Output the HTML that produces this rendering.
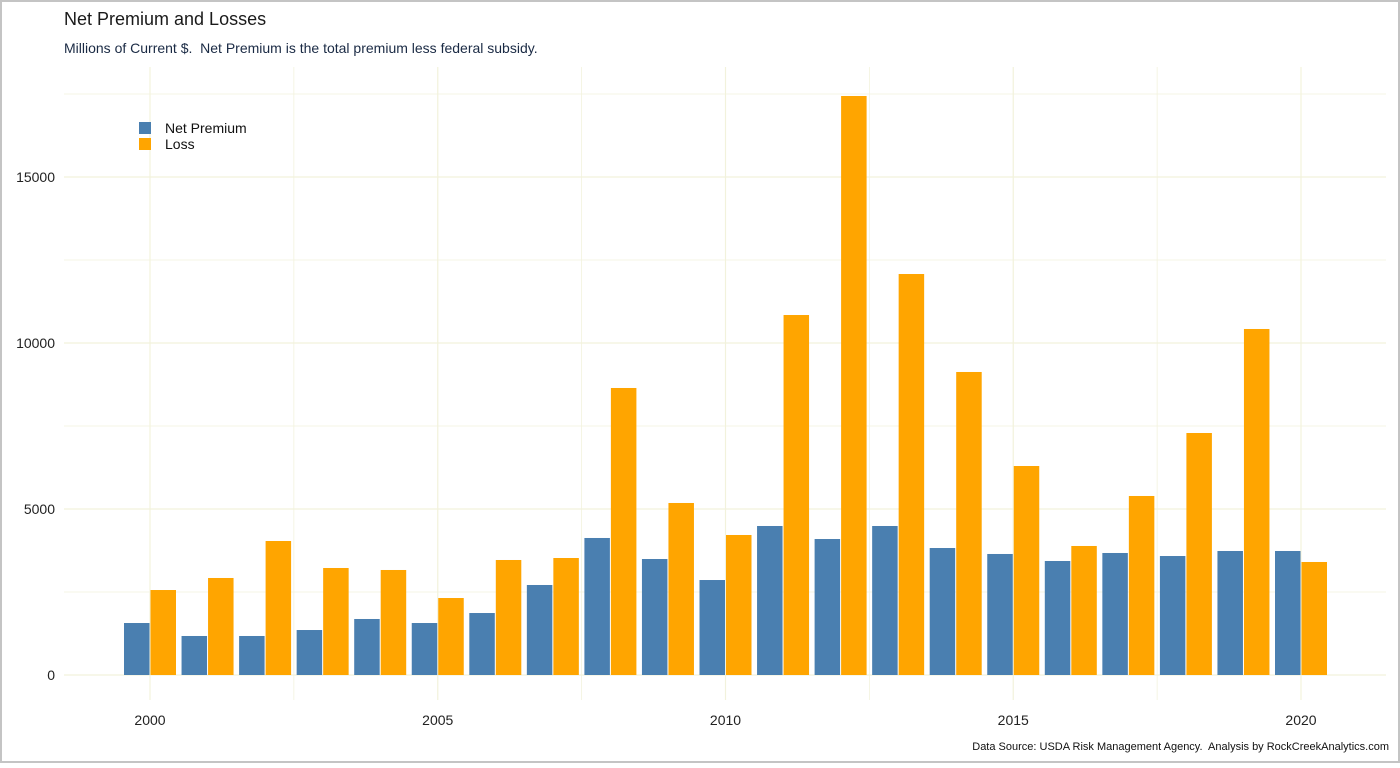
<!DOCTYPE html>
<html><head><meta charset="utf-8"><style>
html,body{margin:0;padding:0;background:#fff}
body{width:1400px;height:763px;overflow:hidden;font-family:"Liberation Sans",Arial,sans-serif}
svg text{font-family:"Liberation Sans",Arial,sans-serif;white-space:pre}
</style></head><body>
<svg id="chart" width="1400" height="763" xmlns="http://www.w3.org/2000/svg">
<rect x="1" y="1" width="1398" height="761" fill="#fff" stroke="#c4c4c4" stroke-width="2"/>
<text x="64" y="25" font-size="18" fill="#1a1a1a">Net Premium and Losses</text>
<text x="64" y="53" font-size="14" fill="#1a2a44">Millions of Current $.  Net Premium is the total premium less federal subsidy.</text>
<g id="grid"></g>
<g id="bars"></g>
<g id="axes"></g>
<g>
<rect x="139" y="122" width="12" height="12" fill="#4a7fb0"/>
<text x="165" y="133" font-size="14" fill="#111">Net Premium</text>
<rect x="139" y="138" width="12" height="12" fill="#ffa500"/>
<text x="165" y="149" font-size="14" fill="#111">Loss</text>
</g>
<text x="1389" y="750" font-size="11" text-anchor="end" fill="#111">Data Source: USDA Risk Management Agency.  Analysis by RockCreekAnalytics.com</text>
</svg>
<script>
const years=[2000,2001,2002,2003,2004,2005,2006,2007,2008,2009,2010,2011,2012,2013,2014,2015,2016,2017,2018,2019,2020];
const netPremium=[1566,1175,1175,1355,1687,1566,1867,2711,4127,3494,2861,4488,4096,4488,3825,3645,3434,3675,3584,3735,3735];
const loss=[2560,2922,4036,3223,3163,2319,3464,3524,8645,5181,4217,10843,17440,12078,9127,6295,3886,5392,7289,10422,3404];
const yTicks=[0,5000,10000,15000];
const xTicks=[2000,2005,2010,2015,2020];
const NS="http://www.w3.org/2000/svg";
const X=v=>150+(v-2000)*57.55;
const Y=v=>675-v/5000*166;
const L=64,R=1386,T=67,B=700;
function mk(tag,attrs,parent){const e=document.createElementNS(NS,tag);for(const k in attrs)e.setAttribute(k,attrs[k]);parent.appendChild(e);return e;}
const grid=document.getElementById('grid'),bars=document.getElementById('bars'),axes=document.getElementById('axes');
for(let v=0;v<=17500;v+=2500){const l=mk('line',{x1:L,x2:R,y1:Y(v),y2:Y(v),stroke:'#f2f2dc','stroke-width':v%5000?0.8:1.2},grid);

}
for(let v=1997.5;v<=2022.5;v+=2.5){const x=X(v);if(x<L||x>R)continue;const l=mk('line',{x1:x,x2:x,y1:T,y2:B,stroke:'#f2f2dc','stroke-width':v%5?0.8:1.2},grid);

}
const bw=25.5;
years.forEach((yr,i)=>{
const b1=mk('rect',{x:X(yr)-bw-0.5,y:Y(netPremium[i]),width:bw,height:Y(0)-Y(netPremium[i]),fill:'#4a7fb0'},bars);


const b2=mk('rect',{x:X(yr)+0.5,y:Y(loss[i]),width:bw,height:Y(0)-Y(loss[i]),fill:'#ffa500'},bars);


});
yTicks.forEach(v=>{const t=mk('text',{x:55,y:Y(v)+5,'text-anchor':'end','font-size':14,fill:'#222'},axes);t.textContent=v;

});
xTicks.forEach(v=>{const t=mk('text',{x:X(v),y:725,'text-anchor':'middle','font-size':14,fill:'#222'},axes);t.textContent=v;

});
</script>
</body></html>
